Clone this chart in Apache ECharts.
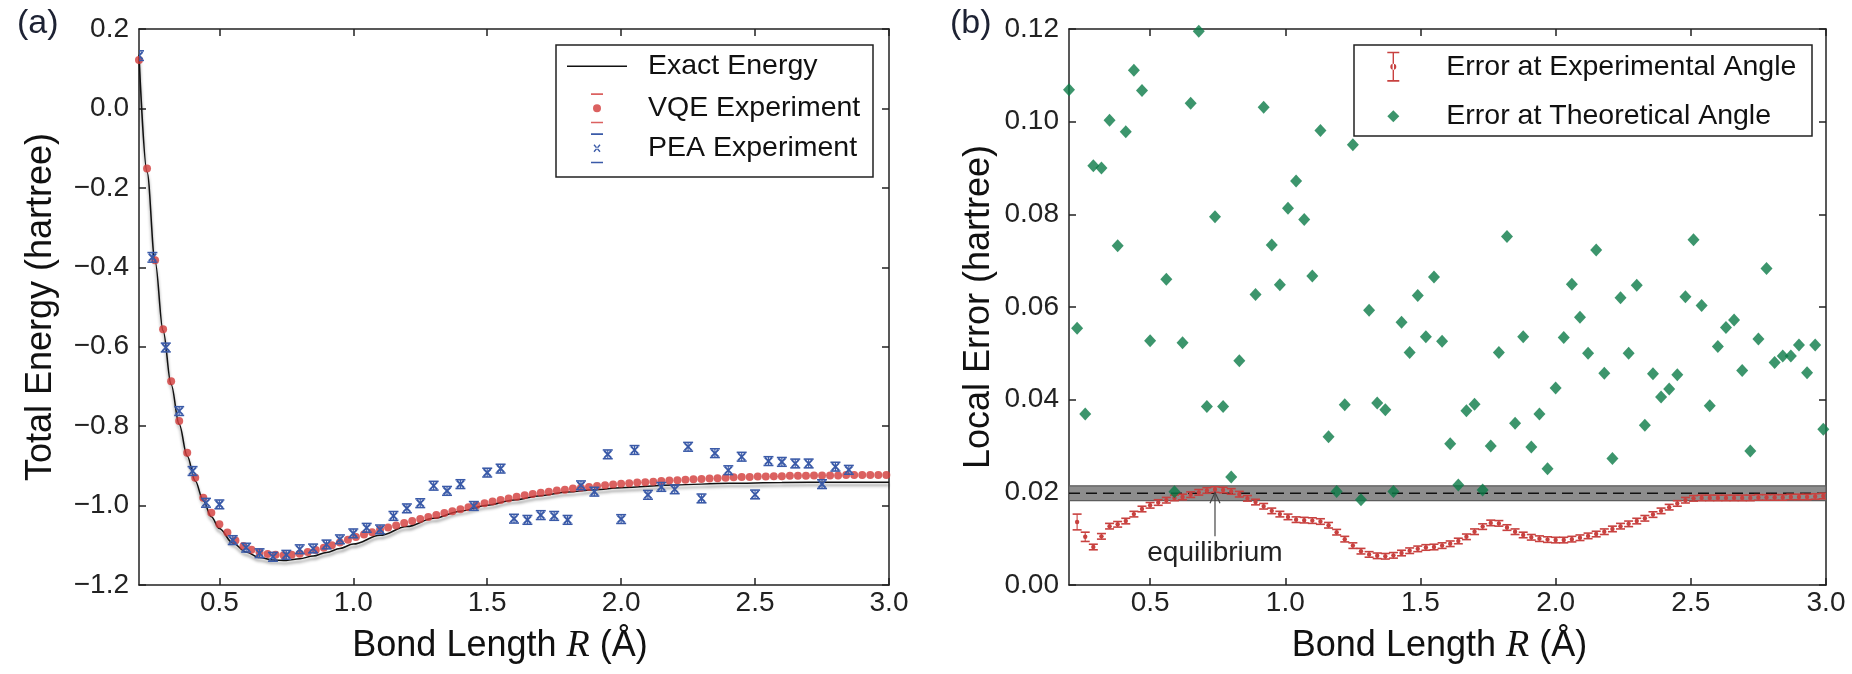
<!DOCTYPE html>
<html>
<head>
<meta charset="utf-8">
<script src="https://cdn.jsdelivr.net/npm/echarts@6/dist/echarts.min.js"></script>
<style>html,body{margin:0;padding:0;background:#fff}#c{width:1852px;height:674px}</style>
</head>
<body>
<div id="c"></div>
<script>
// ---------------- data ----------------
const xTicks = [0.5, 1.0, 1.5, 2.0, 2.5, 3.0];
const yTicksEnergy = [-1.2, -1.0, -0.8, -0.6, -0.4, -0.2, 0.0, 0.2];
const yTicksError = [0.00, 0.02, 0.04, 0.06, 0.08, 0.10, 0.12];

// (a) exact energy curve
const exactR = [0.20,0.23,0.26,0.29,0.32,0.35,0.38,0.41,0.44,0.47,0.50,0.55,0.60,0.65,0.70,0.75,0.80,0.85,0.90,0.95,1.00,1.10,1.20,1.30,1.40,1.50,1.60,1.70,1.80,1.90,2.00,2.20,2.40,2.60,2.80,3.00];
const exactE = [0.135,-0.160,-0.385,-0.560,-0.695,-0.795,-0.875,-0.938,-0.988,-1.028,-1.058,-1.094,-1.117,-1.131,-1.137,-1.138,-1.134,-1.127,-1.118,-1.108,-1.097,-1.075,-1.053,-1.032,-1.014,-0.999,-0.986,-0.975,-0.966,-0.960,-0.955,-0.948,-0.944,-0.942,-0.941,-0.941];

// (a) VQE experiment
const vqeR = [0.20,0.23,0.26,0.29,0.32,0.35,0.38,0.41,0.44,0.47,0.50,0.53,0.56,0.59,0.62,0.65,0.68,0.71,0.74,0.77,0.80,0.83,0.86,0.89,0.92,0.95,0.98,1.01,1.04,1.07,1.10,1.13,1.16,1.19,1.22,1.25,1.28,1.31,1.34,1.37,1.40,1.43,1.46,1.49,1.52,1.55,1.58,1.61,1.64,1.67,1.70,1.73,1.76,1.79,1.82,1.85,1.88,1.91,1.94,1.97,2.00,2.03,2.06,2.09,2.12,2.15,2.18,2.21,2.24,2.27,2.30,2.33,2.36,2.39,2.42,2.45,2.48,2.51,2.54,2.57,2.60,2.63,2.66,2.69,2.72,2.75,2.78,2.81,2.84,2.87,2.90,2.93,2.96,2.99];
const vqeE = [0.122,-0.151,-0.382,-0.556,-0.687,-0.787,-0.867,-0.930,-0.980,-1.018,-1.047,-1.068,-1.088,-1.102,-1.111,-1.118,-1.122,-1.124,-1.125,-1.124,-1.121,-1.117,-1.112,-1.106,-1.100,-1.093,-1.086,-1.079,-1.073,-1.067,-1.061,-1.055,-1.050,-1.044,-1.039,-1.034,-1.029,-1.024,-1.019,-1.014,-1.009,-1.004,-0.999,-0.994,-0.990,-0.986,-0.982,-0.978,-0.974,-0.971,-0.968,-0.965,-0.962,-0.960,-0.957,-0.955,-0.953,-0.951,-0.949,-0.947,-0.945,-0.944,-0.942,-0.941,-0.940,-0.938,-0.937,-0.936,-0.935,-0.934,-0.933,-0.932,-0.931,-0.930,-0.929,-0.928,-0.928,-0.927,-0.927,-0.926,-0.926,-0.925,-0.925,-0.925,-0.924,-0.924,-0.924,-0.924,-0.923,-0.923,-0.923,-0.923,-0.923,-0.923];

// (a) PEA experiment
const peaR = [0.20,0.25,0.30,0.35,0.40,0.45,0.50,0.55,0.60,0.65,0.70,0.75,0.80,0.85,0.90,0.95,1.00,1.05,1.10,1.15,1.20,1.25,1.30,1.35,1.40,1.45,1.50,1.55,1.60,1.65,1.70,1.75,1.80,1.85,1.90,1.95,2.00,2.05,2.10,2.15,2.20,2.25,2.30,2.35,2.40,2.45,2.50,2.55,2.60,2.65,2.70,2.75,2.80,2.85];
const peaE = [0.133,-0.375,-0.602,-0.762,-0.913,-0.993,-0.997,-1.087,-1.106,-1.120,-1.129,-1.124,-1.110,-1.108,-1.098,-1.085,-1.070,-1.056,-1.060,-1.026,-1.007,-0.994,-0.950,-0.963,-0.946,-1.001,-0.917,-0.907,-1.033,-1.036,-1.024,-1.026,-1.036,-0.949,-0.965,-0.871,-1.034,-0.860,-0.973,-0.953,-0.959,-0.852,-0.982,-0.868,-0.911,-0.877,-0.972,-0.888,-0.890,-0.894,-0.894,-0.946,-0.902,-0.910];
const peaErr = [0.012,0.012,0.011,0.011,0.011,0.011,0.011,0.011,0.011,0.011,0.011,0.011,0.011,0.011,0.011,0.011,0.011,0.011,0.011,0.011,0.011,0.011,0.011,0.011,0.011,0.011,0.011,0.011,0.011,0.011,0.011,0.011,0.011,0.011,0.011,0.011,0.011,0.011,0.011,0.011,0.011,0.011,0.011,0.011,0.011,0.011,0.011,0.011,0.011,0.011,0.011,0.011,0.011,0.011];

// (b) error at experimental angle
const expR = [0.23,0.26,0.29,0.32,0.35,0.38,0.41,0.44,0.47,0.50,0.53,0.56,0.59,0.62,0.65,0.68,0.71,0.74,0.77,0.80,0.83,0.86,0.89,0.92,0.95,0.98,1.01,1.04,1.07,1.10,1.13,1.16,1.19,1.22,1.25,1.28,1.31,1.34,1.37,1.40,1.43,1.46,1.49,1.52,1.55,1.58,1.61,1.64,1.67,1.70,1.73,1.76,1.79,1.82,1.85,1.88,1.91,1.94,1.97,2.00,2.03,2.06,2.09,2.12,2.15,2.18,2.21,2.24,2.27,2.30,2.33,2.36,2.39,2.42,2.45,2.48,2.51,2.54,2.57,2.60,2.63,2.66,2.69,2.72,2.75,2.78,2.81,2.84,2.87,2.90,2.93,2.96,2.99];
const expErr = [0.0136,0.0104,0.0082,0.0105,0.0127,0.0131,0.0138,0.0153,0.0164,0.0172,0.0178,0.0183,0.0188,0.0190,0.0195,0.0200,0.0204,0.0206,0.0205,0.0202,0.0196,0.0187,0.0179,0.0170,0.0160,0.0153,0.0147,0.0141,0.0140,0.0139,0.0137,0.0129,0.0114,0.0099,0.0085,0.0073,0.0066,0.0063,0.0062,0.0064,0.0069,0.0074,0.0078,0.0081,0.0082,0.0085,0.0089,0.0095,0.0104,0.0115,0.0126,0.0134,0.0133,0.0124,0.0115,0.0108,0.0103,0.0100,0.0098,0.0097,0.0097,0.0099,0.0102,0.0106,0.0110,0.0115,0.0121,0.0127,0.0132,0.0138,0.0144,0.0152,0.0160,0.0168,0.0176,0.0183,0.0187,0.0188,0.0188,0.0188,0.0188,0.0188,0.0188,0.0188,0.0189,0.0189,0.0189,0.0189,0.0190,0.0190,0.0190,0.0191,0.0192];
const expErrBar = [0.0017,0.0010,0.0006,0.0006,0.0006,0.0006,0.0006,0.0006,0.0006,0.0006,0.0006,0.0006,0.0006,0.0006,0.0006,0.0006,0.0006,0.0006,0.0006,0.0006,0.0006,0.0006,0.0006,0.0006,0.0006,0.0006,0.0006,0.0006,0.0006,0.0006,0.0006,0.0006,0.0006,0.0006,0.0006,0.0006,0.0006,0.0006,0.0006,0.0006,0.0006,0.0006,0.0006,0.0006,0.0006,0.0006,0.0006,0.0006,0.0006,0.0006,0.0006,0.0006,0.0006,0.0006,0.0006,0.0006,0.0006,0.0006,0.0006,0.0006,0.0006,0.0006,0.0006,0.0006,0.0006,0.0006,0.0006,0.0006,0.0006,0.0006,0.0006,0.0006,0.0006,0.0006,0.0006,0.0006,0.0006,0.0006,0.0006,0.0006,0.0006,0.0006,0.0006,0.0006,0.0006,0.0006,0.0006,0.0006,0.0006,0.0006,0.0006,0.0006,0.0006];

// (b) error at theoretical angle
const theoR = [0.20,0.23,0.26,0.29,0.32,0.35,0.38,0.41,0.44,0.47,0.50,0.56,0.59,0.62,0.65,0.68,0.71,0.74,0.77,0.80,0.83,0.89,0.92,0.95,0.98,1.01,1.04,1.07,1.10,1.13,1.16,1.19,1.22,1.25,1.28,1.31,1.34,1.37,1.40,1.43,1.46,1.49,1.52,1.55,1.58,1.61,1.64,1.67,1.70,1.73,1.76,1.79,1.82,1.85,1.88,1.91,1.94,1.97,2.00,2.03,2.06,2.09,2.12,2.15,2.18,2.21,2.24,2.27,2.30,2.33,2.36,2.39,2.42,2.45,2.48,2.51,2.54,2.57,2.60,2.63,2.66,2.69,2.72,2.75,2.78,2.81,2.84,2.87,2.90,2.93,2.96,2.99];
const theoErr = [0.1069,0.0554,0.0369,0.0905,0.0900,0.1003,0.0732,0.0978,0.1111,0.1067,0.0527,0.0660,0.0201,0.0523,0.1040,0.1195,0.0385,0.0795,0.0385,0.0233,0.0484,0.0627,0.1031,0.0734,0.0648,0.0813,0.0872,0.0789,0.0667,0.0981,0.0320,0.0202,0.0389,0.0950,0.0184,0.0593,0.0393,0.0378,0.0202,0.0567,0.0502,0.0625,0.0536,0.0665,0.0526,0.0305,0.0216,0.0376,0.0390,0.0205,0.0300,0.0502,0.0752,0.0349,0.0536,0.0298,0.0369,0.0251,0.0425,0.0534,0.0649,0.0578,0.0500,0.0723,0.0457,0.0273,0.0620,0.0500,0.0647,0.0345,0.0456,0.0406,0.0423,0.0454,0.0622,0.0745,0.0603,0.0387,0.0515,0.0556,0.0572,0.0463,0.0289,0.0531,0.0683,0.0480,0.0494,0.0494,0.0518,0.0458,0.0518,0.0336];

// chemical accuracy band and equilibrium marker
const accR = [0.2, 3.0];
const accLevel = 0.0198;
const accLow = 0.0182;
const accHigh = 0.0214;
const eqR = 0.74;
const eqTail = 0.0105;
const eqTip = 0.0200;

// ---------------- styling ----------------
const FONT = "'Liberation Sans', Arial, Helvetica, sans-serif";
const INK = '#222';
const RED = '#d23a38';
const RED2 = '#c8413f';
const BLUE = '#3a5aa8';
const GREEN = '#0b7a47';

const pairs = (xs, ys) => xs.map((x, i) => [x, ys[i]]);
const triples = (xs, ys, es) => xs.map((x, i) => [x, ys[i], es[i]]);
const minus = s => s.replace('-', '\u2212');

const tickStyle = {color: INK, width: 1.5};
function frameAxes(gridIndex, isX, min, max, ticks, labelFmt, name, nameGap, nameStyle) {
  const common = {
    gridIndex, type: 'value', min, max,
    axisLine: {show: true, onZero: false, lineStyle: tickStyle},
    axisTick: {show: true, inside: true, length: 7, customValues: ticks, lineStyle: tickStyle},
    splitLine: {show: false}
  };
  const main = Object.assign({}, common, {
    position: isX ? 'bottom' : 'left',
    axisLabel: {show: true, customValues: ticks, formatter: labelFmt, fontSize: 28, fontFamily: FONT, color: INK, margin: isX ? 4 : 10},
    name, nameLocation: 'middle', nameGap, nameTextStyle: nameStyle
  });
  const other = Object.assign({}, common, {
    position: isX ? 'top' : 'right',
    axisLabel: {show: false}
  });
  return [main, other];
}

const xName = '{a|Bond Length }{i|R}{a| (\u00C5)}';
const xNameStyle = pad => ({
  padding: [0, pad, 0, 0],
  rich: {
    a: {fontSize: 36, fontFamily: FONT, color: '#111'},
    i: {fontSize: 38, fontFamily: "'Liberation Serif', 'DejaVu Serif', serif", fontStyle: 'italic', color: '#111'}
  }
});
const yNameStyle = {fontSize: 36, fontFamily: FONT, color: '#111'};

const xA = frameAxes(0, true, 0.2, 3.0, xTicks, v => v.toFixed(1), xName, 42, xNameStyle(28));
const xB = frameAxes(1, true, 0.2, 3.0, xTicks, v => v.toFixed(1), xName, 42, xNameStyle(16));
const yA = frameAxes(0, false, -1.2, 0.2, yTicksEnergy, v => minus(v.toFixed(1)), 'Total Energy (hartree)', 80, yNameStyle);
const yB = frameAxes(1, false, 0, 0.12, yTicksError, v => v.toFixed(2), 'Local Error (hartree)', 72, yNameStyle);

const ICON_CAPS = 'M0,0h12v1.6h-12z M0,28.4h12v1.6h-12z ';
const LINE_ICON = 'path://M0,0h60v1.6h-60z';
const VQE_ICON = 'path://' + ICON_CAPS + 'M2,15a4,4 0 1,0 8,0a4,4 0 1,0 -8,0z';
const PEA_ICON = 'path://' + ICON_CAPS + 'M2.5,12L3.5,11L9.5,18L8.5,19z M9.5,12L8.5,11L2.5,18L3.5,19z';
const ERR_ICON = 'path://' + ICON_CAPS + 'M5.3,1h1.4v28h-1.4z M3,15a3,3 0 1,0 6,0a3,3 0 1,0 -6,0z';

const legendText = padLeft => ({fontSize: 28.5, fontFamily: FONT, color: '#111', padding: [0, 0, 0, padLeft]});
const legendBase = {padding: 0, selectedMode: false, z: 10, orient: 'vertical'};

function errorBarItem(color, capHalf, markerFn) {
  return function (params, api) {
    const x = api.value(0), y = api.value(1), e = api.value(2);
    const c = api.coord([x, y]);
    const t = api.coord([x, y + e]);
    const b = api.coord([x, y - e]);
    const st = {stroke: color, lineWidth: 1.6};
    const kids = [
      {type: 'line', shape: {x1: c[0], y1: t[1], x2: c[0], y2: b[1]}, style: {stroke: color, lineWidth: 1.1}},
      {type: 'line', shape: {x1: c[0] - capHalf, y1: t[1], x2: c[0] + capHalf, y2: t[1]}, style: st},
      {type: 'line', shape: {x1: c[0] - capHalf, y1: b[1], x2: c[0] + capHalf, y2: b[1]}, style: st}
    ];
    return {type: 'group', children: kids.concat(markerFn(c, color))};
  };
}
const crossMarker = (c, color) => {
  const s = 3.6, st = {stroke: color, lineWidth: 1.9};
  return [
    {type: 'line', shape: {x1: c[0] - s, y1: c[1] - s, x2: c[0] + s, y2: c[1] + s}, style: st},
    {type: 'line', shape: {x1: c[0] - s, y1: c[1] + s, x2: c[0] + s, y2: c[1] - s}, style: st}
  ];
};
const dotMarker = (c, color) => [{type: 'circle', shape: {cx: c[0], cy: c[1], r: 2.2}, style: {fill: color}}];

const option = {
  animation: false,
  backgroundColor: '#fff',
  title: [
    {text: '(a)', left: 17, top: 7, padding: 0, textStyle: {fontSize: 34, fontWeight: 'normal', fontFamily: FONT, color: '#1d2233'}},
    {text: '(b)', left: 950, top: 7, padding: 0, textStyle: {fontSize: 34, fontWeight: 'normal', fontFamily: FONT, color: '#1d2233'}}
  ],
  grid: [
    {left: 139, top: 29, width: 750, height: 556, outerBoundsMode: 'none', containLabel: false},
    {left: 1069, top: 29, width: 757, height: 556, outerBoundsMode: 'none', containLabel: false}
  ],
  xAxis: [xA[0], xA[1], xB[0], xB[1]],
  yAxis: [yA[0], yA[1], yB[0], yB[1]],
  legend: [
    Object.assign({}, legendBase, {data: [{name: 'Exact Energy', icon: LINE_ICON, itemStyle: {color: '#111'}}], left: 567, top: 51.7, itemWidth: 60, itemHeight: 30, textStyle: legendText(16)}),
    Object.assign({}, legendBase, {data: [{name: 'VQE Experiment', icon: VQE_ICON}, {name: 'PEA Experiment', icon: PEA_ICON}], left: 591, top: 93.3, itemWidth: 12, itemHeight: 30, itemGap: 10, textStyle: legendText(40)}),
    Object.assign({}, legendBase, {data: [{name: 'Error at Experimental Angle', icon: ERR_ICON}], left: 1387.3, top: 51.7, itemWidth: 12, itemHeight: 30, textStyle: legendText(42)}),
    Object.assign({}, legendBase, {data: [{name: 'Error at Theoretical Angle', icon: 'diamond'}], left: 1387.3, top: 101.7, itemWidth: 12, itemHeight: 12, textStyle: legendText(42)})
  ],
  graphic: [
    {type: 'rect', z: 8, shape: {x: 556, y: 45, width: 317, height: 132}, style: {fill: '#fff', stroke: INK, lineWidth: 1.5}},
    {type: 'rect', z: 8, shape: {x: 1354, y: 45, width: 458, height: 91}, style: {fill: '#fff', stroke: INK, lineWidth: 1.5}}
  ],
  series: [
    {
      name: 'Exact Energy', type: 'line', xAxisIndex: 0, yAxisIndex: 0, z: 2,
      data: pairs(exactR, exactE), showSymbol: false, symbol: 'none',
      smooth: 0.35, smoothMonotone: 'x',
      lineStyle: {color: '#111', width: 1.5, shadowColor: 'rgba(0,0,0,0.5)', shadowBlur: 3, shadowOffsetY: 3},
      itemStyle: {color: '#111'}
    },
    {
      name: 'VQE Experiment', type: 'scatter', xAxisIndex: 0, yAxisIndex: 0, z: 3,
      data: pairs(vqeR, vqeE), symbol: 'circle', symbolSize: 8,
      itemStyle: {color: RED}
    },
    {
      name: 'PEA Experiment', type: 'custom', xAxisIndex: 0, yAxisIndex: 0, z: 4, clip: true,
      data: triples(peaR, peaE, peaErr), encode: {x: 0, y: 1},
      itemStyle: {color: BLUE},
      renderItem: errorBarItem(BLUE, 5, crossMarker)
    },
    {
      type: 'custom', xAxisIndex: 2, yAxisIndex: 2, z: 1, silent: true,
      data: [[accR[0], accR[1], accLow, accHigh]], encode: {x: [0, 1], y: [2, 3]},
      renderItem: function (params, api) {
        const p0 = api.coord([api.value(0), api.value(3)]);
        const p1 = api.coord([api.value(1), api.value(2)]);
        return {type: 'rect', shape: {x: p0[0], y: p0[1], width: p1[0] - p0[0], height: p1[1] - p0[1]},
          style: {fill: '#8d8d8d', stroke: '#5c5c5c', lineWidth: 1.3}};
      }
    },
    {
      type: 'line', xAxisIndex: 2, yAxisIndex: 2, z: 2, silent: true,
      data: pairs(accR, [accLevel, accLevel]), showSymbol: false, symbol: 'none',
      lineStyle: {color: '#111', width: 1.6, type: [11, 6]}
    },
    {
      name: 'Error at Experimental Angle', type: 'custom', xAxisIndex: 2, yAxisIndex: 2, z: 3, clip: true,
      data: triples(expR, expErr, expErrBar), encode: {x: 0, y: 1},
      itemStyle: {color: RED2},
      renderItem: errorBarItem(RED2, 4.5, dotMarker)
    },
    {
      name: 'Error at Theoretical Angle', type: 'scatter', xAxisIndex: 2, yAxisIndex: 2, z: 4,
      data: pairs(theoR, theoErr), symbol: 'diamond', symbolSize: [12, 13],
      itemStyle: {color: GREEN}
    },
    {
      type: 'custom', xAxisIndex: 2, yAxisIndex: 2, z: 5, silent: true,
      data: [[eqR, eqTail, eqTip]], encode: {x: 0, y: [1, 2]},
      renderItem: function (params, api) {
        const tail = api.coord([api.value(0), api.value(1)]);
        const tip = api.coord([api.value(0), api.value(2)]);
        const st = {stroke: '#444', lineWidth: 1.2};
        return {type: 'group', children: [
          {type: 'line', shape: {x1: tail[0], y1: tail[1], x2: tip[0], y2: tip[1]}, style: st},
          {type: 'polyline', shape: {points: [[tip[0] - 5, tip[1] + 11], [tip[0], tip[1]], [tip[0] + 5, tip[1] + 11]]}, style: {stroke: '#444', lineWidth: 1.2, fill: null}},
          {type: 'text', x: tail[0], y: tail[1] + 3, style: {text: 'equilibrium', fontSize: 28, fontFamily: FONT, fill: INK, align: 'center', verticalAlign: 'top'}}
        ]};
      }
    }
  ]
};

const chart = echarts.init(document.getElementById('c'), null, {renderer: 'canvas'});
chart.setOption(option);
</script>
</body>
</html>
